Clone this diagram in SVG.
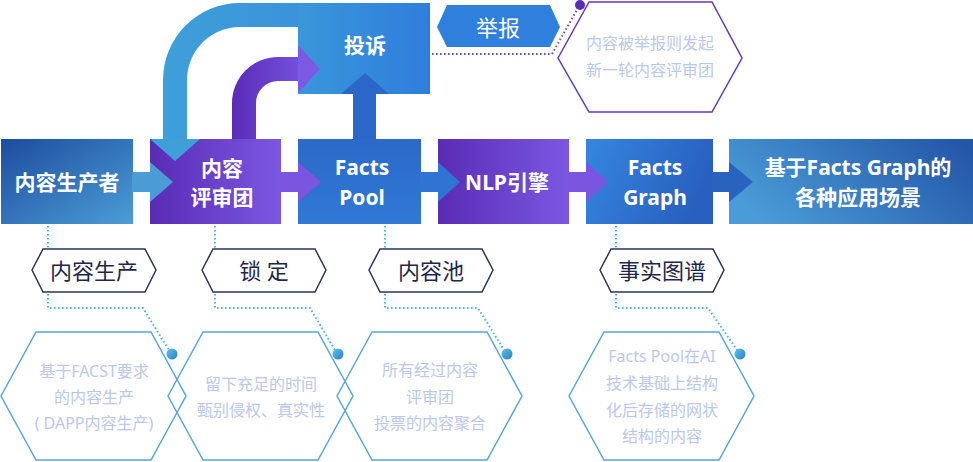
<svg xmlns="http://www.w3.org/2000/svg" width="973" height="462" viewBox="0 0 973 462">
<defs>
<linearGradient id="gBox1" x1="0" y1="0" x2="1" y2="1"><stop offset="0" stop-color="#1D4C9D"/><stop offset="1" stop-color="#4B9DD7"/></linearGradient>
<linearGradient id="gPurple" x1="0" y1="0" x2="1" y2="0"><stop offset="0" stop-color="#5A2BB5"/><stop offset="1" stop-color="#7B58E2"/></linearGradient>
<linearGradient id="gBox3" x1="0" y1="0" x2="0" y2="1"><stop offset="0" stop-color="#2C69C9"/><stop offset="1" stop-color="#3079D6"/></linearGradient>
<linearGradient id="gBox5" x1="0" y1="0" x2="1" y2="0.3"><stop offset="0" stop-color="#3586DF"/><stop offset="1" stop-color="#2960BF"/></linearGradient>
<linearGradient id="gBox6" x1="0" y1="0.6" x2="1" y2="0.2"><stop offset="0" stop-color="#4A9BD7"/><stop offset="1" stop-color="#2457A8"/></linearGradient>
<linearGradient id="gTop" x1="0" y1="0" x2="1" y2="0"><stop offset="0" stop-color="#3A96DA"/><stop offset="1" stop-color="#2F7EDC"/></linearGradient>
<linearGradient id="gArcBlue" gradientUnits="userSpaceOnUse" x1="163" y1="0" x2="298" y2="0"><stop offset="0" stop-color="#3E9FD9"/><stop offset="1" stop-color="#3A93DA"/></linearGradient>
<linearGradient id="gArcPurple" gradientUnits="userSpaceOnUse" x1="232" y1="0" x2="320" y2="0"><stop offset="0" stop-color="#5A2CB8"/><stop offset="1" stop-color="#7C5AE6"/></linearGradient>
<linearGradient id="gDot" x1="0" y1="0" x2="1" y2="1"><stop offset="0" stop-color="#5CC2EA"/><stop offset="1" stop-color="#2B7FC2"/></linearGradient>
<style>
.bt{font-family:"Noto Sans","Noto Sans CJK SC",sans-serif;font-weight:700;font-size:21px;fill:#ffffff;text-anchor:middle;dominant-baseline:central}
.lb{font-family:"Noto Sans","Noto Sans CJK SC",sans-serif;font-size:22px;fill:#1E2749;text-anchor:middle;dominant-baseline:central}
.ds{font-family:"Noto Sans","Noto Sans CJK SC",sans-serif;font-size:16px;fill:#BAC8EE;text-anchor:middle;dominant-baseline:central}
.lbh{fill:#ffffff;stroke:#2B3457;stroke-width:1.5}
.hx{fill:none;stroke:#55A8D8;stroke-width:1.5}
.dotl{fill:none;stroke:#4DB5E3;stroke-width:2;stroke-dasharray:1.6 2.4}
.dotp{fill:none;stroke:#7148D2;stroke-width:2;stroke-dasharray:1.6 2.4}
</style>
</defs>

<!-- top complaint box -->
<g id="node-tousu">
<rect x="298" y="3" width="132" height="91" fill="url(#gTop)"/>
</g>

<!-- boxes -->
<g id="node-producer"><rect x="1" y="139" width="132" height="85" fill="url(#gBox1)"/><text class="bt" x="67" y="182">内容生产者</text></g>
<g id="node-review"><rect x="150" y="139" width="131" height="85" fill="url(#gPurple)"/></g>
<g id="node-pool"><rect x="298" y="139" width="123" height="85" fill="url(#gBox3)"/></g>
<g id="node-nlp"><rect x="438" y="139" width="131" height="85" fill="url(#gPurple)"/></g>
<g id="node-graph"><rect x="586" y="139" width="127" height="85" fill="url(#gBox5)"/></g>
<g id="node-apps"><rect x="729" y="139" width="244" height="85" fill="url(#gBox6)"/></g>

<!-- connectors -->
<g id="connectors">
<path d="M298,3 H240 A77,77 0 0 0 163,80 V139 H187 V80 A53,53 0 0 1 240,27 H298 Z" fill="url(#gArcBlue)"/>
<polygon points="150,139 175,161 200,139" fill="#3E9FD9"/>
<path d="M232,139 V103 A46,46 0 0 1 278,57 H298 V81 H278 A22,22 0 0 0 256,103 V139 Z" fill="url(#gArcPurple)"/>
<polygon points="298,45 320,69 298,93" fill="#7C5AE6"/>
<rect x="353" y="93" width="23" height="46" fill="#2B67C9"/>
<polygon points="341,94 365,73 389,94" fill="#2B67C9"/>

<rect x="132" y="172" width="19" height="20" fill="#4B9BD6"/>
<polygon points="150,162 173,182 150,202" fill="#4B9BD6"/>
<rect x="280" y="172" width="19" height="20" fill="#7A56E0"/>
<polygon points="298,162 321,182 298,202" fill="#7A56E0"/>
<rect x="420" y="172" width="19" height="20" fill="#2F74D3"/>
<polygon points="438,162 460,182 438,202" fill="#2F74D3"/>
<rect x="568" y="172" width="19" height="20" fill="#7A56E0"/>
<polygon points="586,162 608,182 586,202" fill="#7A56E0"/>
<rect x="712" y="172" width="18" height="20" fill="#2A62C0"/>
<polygon points="729,162 753,182 729,202" fill="#2A62C0"/>

<!-- dotted leader lines -->
<polyline class="dotp" points="432,54 552,54 578,8"/>
<circle cx="580" cy="5" r="5" fill="#5A2DB8"/>
<polyline class="dotl" points="48,226 48,308 143,308 169,350"/>
<polyline class="dotl" points="215,226 215,308 310,308 335,350"/>
<polyline class="dotl" points="385,226 385,308 478,308 504,350"/>
<polyline class="dotl" points="616,226 616,308 708,308 737,350"/>
</g>

<!-- box labels -->
<g id="node-tousu-label"><text class="bt" x="365" y="45">投诉</text></g>
<g id="node-review-text"><text class="bt" x="222" y="168">内容</text><text class="bt" x="222" y="197">评审团</text></g>
<g id="node-pool-text"><text class="bt" x="362" y="167">Facts</text><text class="bt" x="362" y="197">Pool</text></g>
<g id="node-nlp-text"><text class="bt" x="507" y="182">NLP引擎</text></g>
<g id="node-graph-text"><text class="bt" x="655" y="167">Facts</text><text class="bt" x="655" y="197">Graph</text></g>
<g id="node-apps-text"><text class="bt" x="858" y="167">基于Facts Graph的</text><text class="bt" x="858" y="197">各种应用场景</text></g>

<!-- report tag -->
<g id="node-report">
<polygon points="437,27 447,5 550,5 560,27 550,47 447,47" fill="#2F80DD"/>
<text x="498" y="27" font-family="Noto Sans,Noto Sans CJK SC,sans-serif" font-size="22" fill="#ffffff" text-anchor="middle" dominant-baseline="central">举报</text>
</g>
<g id="node-report-desc">
<polygon points="558,58 589,2 712,2 742,58 712,112 589,112" fill="#ffffff" stroke="#6236C6" stroke-width="1.5"/>
<text class="ds" x="650" y="43">内容被举报则发起</text>
<text class="ds" x="650" y="70">新一轮内容评审团</text>
</g>

<!-- bottom tags -->
<g id="tag-1"><polygon class="lbh" points="32,270 43,249 145,249 156,270 145,292 43,292"/><text class="lb" x="94" y="270">内容生产</text></g>
<g id="tag-2"><polygon class="lbh" points="202,270 213,249 315,249 326,270 315,292 213,292"/><text class="lb" x="264" y="270">锁 定</text></g>
<g id="tag-3"><polygon class="lbh" points="369,270 380,249 482,249 493,270 482,292 380,292"/><text class="lb" x="431" y="270">内容池</text></g>
<g id="tag-4"><polygon class="lbh" points="600,270 611,249 713,249 724,270 713,292 611,292"/><text class="lb" x="662" y="270">事实图谱</text></g>

<!-- bottom descriptions -->
<g id="desc-1">
<polygon class="hx" points="1,396 36,332 151,332 186,396 151,460 36,460"/>
<text class="ds" x="94" y="371">基于FACST要求</text>
<text class="ds" x="94" y="397">的内容生产</text>
<text class="ds" x="94" y="423">( DAPP内容生产)</text>
</g>
<g id="desc-2">
<polygon class="hx" points="168,396 203,332 318,332 353,396 318,460 203,460"/>
<text class="ds" x="261" y="384">留下充足的时间</text>
<text class="ds" x="261" y="410">甄别侵权、真实性</text>
</g>
<g id="desc-3">
<polygon class="hx" points="337,396 372,332 487,332 522,396 487,460 372,460"/>
<text class="ds" x="430" y="370">所有经过内容</text>
<text class="ds" x="430" y="397">评审团</text>
<text class="ds" x="430" y="423">投票的内容聚合</text>
</g>
<g id="desc-4">
<polygon class="hx" points="569,396 604,332 719,332 754,396 719,460 604,460"/>
<text class="ds" x="662" y="356">Facts Pool在AI</text>
<text class="ds" x="662" y="383">技术基础上结构</text>
<text class="ds" x="662" y="410">化后存储的网状</text>
<text class="ds" x="662" y="436">结构的内容</text>
</g>

<g id="dots">
<circle cx="172" cy="354" r="5.5" fill="url(#gDot)"/>
<circle cx="338" cy="354" r="5.5" fill="url(#gDot)"/>
<circle cx="507" cy="354" r="5.5" fill="url(#gDot)"/>
<circle cx="740" cy="354" r="5.5" fill="url(#gDot)"/>
</g>
</svg>
